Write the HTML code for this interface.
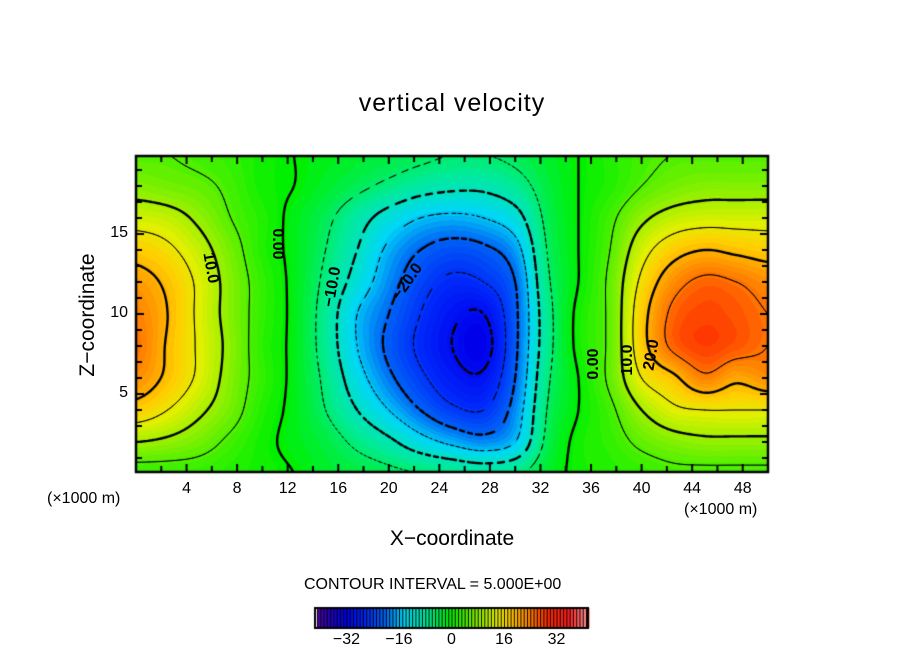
<!DOCTYPE html>
<html><head><meta charset="utf-8">
<style>
body{margin:0;background:#fff;width:904px;height:654px;overflow:hidden;position:relative;font-family:"Liberation Sans",sans-serif;color:#000}
.t{position:absolute;white-space:nowrap}
</style></head>
<body>
<div class="t" style="left:0;width:904px;text-align:center;top:89px;font-size:25px;letter-spacing:1px">vertical velocity</div>
<canvas id="cv" width="904" height="654" style="position:absolute;left:0;top:0"></canvas>
<div class="t" style="left:-12px;top:303px;font-size:21px;transform:rotate(-90deg);transform-origin:center;width:200px;text-align:center">Z−coordinate</div>
<div class="t" style="left:352px;top:527px;font-size:21px;width:200px;text-align:center">X−coordinate</div>
<div class="t" style="left:47px;top:490px;font-size:16px">(×1000 m)</div>
<div class="t" style="left:684px;top:501px;font-size:16px">(×1000 m)</div>
<div class="t" style="left:304px;top:576px;font-size:16px">CONTOUR INTERVAL = 5.000E+00</div>
<div id="labels"></div>
<script>
const xs=[0,2.5,5,7.5,10,12.5,15,17.5,20,22.5,25,27.5,30,32.5,35,37.5,40,42.5,45,47.5,50];
const zs=[20,18,16,14,12,10,8,6,4,2,0];
const field=[
[5,5,4,3,1,0,-1,-2,-3,-4,-5,-5,-4,-2,0,2,4,5,5,5,5],
[8,7,6,4,1,0,-2,-4,-6,-8,-9,-9,-7,-3,0,2,5,7,8,8,8],
[13,12,9,5,2,-1,-4,-8,-12,-15,-16,-15,-12,-4,0,4,9,12,13,13,13],
[18,16,12,7,2,-1,-5,-10,-16,-20,-22,-21,-17,-5,0,5,13,18,20,19,18],
[22,19,14,8,3,-1,-6,-12,-18,-23,-26,-25,-20,-6,0,6,16,23,26,25,23],
[24,20,14,8,3,-1,-7,-15,-20,-25,-29,-30,-21,-7,1,6,18,26,28,27,25],
[25,19.5,14.3,8.5,2.6,-1,-7,-15,-21,-26,-30,-32,-21,-7,1,6,18,26,28.5,27,25],
[23,19,14,8,3,-1,-6,-13,-19,-24,-28,-29,-20,-6,0,6,15,19,24,21,23],
[18,15,11,7,2,-1,-5,-10,-15,-20,-24,-25,-18,-5,0,4,10,14,15,15,15],
[10,9,7,4,1,-1,-3,-6,-9,-13,-16,-18,-15,-4,1,3,6,8,9,9,9],
[3,3,3,2,1,0,-2,-3,-4,-5,-6,-7,-6,-2,1,2,3,4,4,4,4]];
const xTicks=[4,8,12,16,20,24,28,32,36,40,44,48];
const yTicks=[5,10,15];
const cbTicks=[-32,-16,0,16,32];
const levels=[-30,-25,-20,-15,-10,-5,0,5,10,15,20,25,30];

const PL=136,PR=768,PT=156,PB=472;
const X=v=>PL+v*(PR-PL)/50;
const Z=v=>474-v*16;
const stops=[[-42,[100,0,150]],[-37,[40,0,190]],[-32,[0,0,235]],[-26,[0,40,250]],[-20,[0,100,245]],[-14,[0,215,245]],[-7,[0,235,150]],[0,[0,240,0]],[8,[130,240,0]],[14,[225,240,0]],[18,[255,205,0]],[24,[255,130,0]],[30,[255,40,0]],[36,[255,30,30]],[42,[255,150,150]]];
function col(v){v=Math.round(v);if(v<=stops[0][0])return stops[0][1];
for(let i=1;i<stops.length;i++){if(v<=stops[i][0]){const a=stops[i-1],b=stops[i],t=(v-a[0])/(b[0]-a[0]);return a[1].map((c,k)=>Math.round(c+(b[1][k]-c)*t));}}return stops[stops.length-1][1];}
function cr(p0,p1,p2,p3,t){return 0.5*(2*p1+(-p0+p2)*t+(2*p0-5*p1+4*p2-p3)*t*t+(-p0+3*p1-3*p2+p3)*t*t*t);}
function g(r,c){r=Math.max(0,Math.min(zs.length-1,r));c=Math.max(0,Math.min(xs.length-1,c));return field[r][c];}
function val(x,z){const fc=x/(xs[1]-xs[0]);const fr=(zs[0]-z)/(zs[0]-zs[1]);
const c=Math.floor(fc),r=Math.floor(fr),tc=fc-c,tr=fr-r;const rows=[];
for(let k=-1;k<=2;k++)rows.push(cr(g(r+k,c-1),g(r+k,c),g(r+k,c+1),g(r+k,c+2),tc));
return cr(rows[0],rows[1],rows[2],rows[3],tr);}
const cv=document.getElementById('cv'),ctx=cv.getContext('2d');
const W=PR-PL,H=PB-PT;const img=ctx.createImageData(W,H);
for(let j=0;j<H;j++){const z=(474-(PT+j+0.5))/16;for(let i=0;i<W;i++){const x=(i+0.5)*50/W;const v=val(x,z);const cc=col(v);const o=(j*W+i)*4;img.data[o]=cc[0];img.data[o+1]=cc[1];img.data[o+2]=cc[2];img.data[o+3]=255;}}
ctx.putImageData(img,PL,PT);
const S=2,nx=Math.floor(W/S)+1,ny=Math.floor(H/S)+1;const G=[];
for(let j=0;j<ny;j++){G.push([]);for(let i=0;i<nx;i++){G[j].push(val(i*S*50/W,(474-(PT+j*S))/16));}}
ctx.save();ctx.beginPath();ctx.rect(PL,PT,W,H);ctx.clip();
levels.forEach(L=>{ctx.beginPath();ctx.lineWidth=(L%10===0)?2.4:1;ctx.strokeStyle='#000';ctx.lineCap='round';
const per=L%10===0?10:7;
for(let j=0;j<ny-1;j++)for(let i=0;i<nx-1;i++){const a=G[j][i],b=G[j][i+1],c=G[j+1][i+1],d=G[j+1][i];const pts=[];
const e=(v1,v2,x1,y1,x2,y2)=>{if((v1<L)!==(v2<L)){const t=(L-v1)/(v2-v1);pts.push([x1+(x2-x1)*t,y1+(y2-y1)*t]);}};
const x0=PL+i*S,y0=PT+j*S;e(a,b,x0,y0,x0+S,y0);e(b,c,x0+S,y0,x0+S,y0+S);e(d,c,x0,y0+S,x0+S,y0+S);e(a,d,x0,y0,x0,y0+S);
for(let k=0;k+1<pts.length;k+=2){
if(L<0){const mx=(pts[k][0]+pts[k+1][0])/2,my=(pts[k][1]+pts[k+1][1])/2;const ph=((Math.abs(mx)+Math.abs(my))/per)%1;if(ph>0.6)continue;}
ctx.moveTo(pts[k][0],pts[k][1]);ctx.lineTo(pts[k+1][0],pts[k+1][1]);}}
ctx.stroke();});
ctx.restore();ctx.lineCap='butt';
ctx.lineWidth=2.5;ctx.strokeStyle='#000';ctx.strokeRect(PL,PT,W,H);ctx.lineWidth=2;ctx.beginPath();
for(let v=2;v<50;v+=2){const len=(v%4===0)?8:6;ctx.moveTo(X(v),PB);ctx.lineTo(X(v),PB-len);ctx.moveTo(X(v),PT);ctx.lineTo(X(v),PT+len);}
for(let v=1;v<20;v++){const y=Z(v);if(y<=PT||y>=PB)continue;const len=(v%5===0)?8:6;ctx.moveTo(PL,y);ctx.lineTo(PL+len,y);ctx.moveTo(PR,y);ctx.lineTo(PR-len,y);}
ctx.stroke();
const lab=document.getElementById('labels');
xTicks.forEach(v=>{const d=document.createElement('div');d.className='t';


d.style.cssText=`left:${X(v)-20}px;width:40px;text-align:center;top:480px;font-size:16px`;d.textContent=v;lab.appendChild(d);});
yTicks.forEach(v=>{const d=document.createElement('div');d.className='t';


d.style.cssText=`left:88px;width:40px;text-align:right;top:${Z(v)-10}px;font-size:16px`;d.textContent=v;lab.appendChild(d);});
const CL=315,CR=588,CT=608,CB=628,cmin=-41.6,cmax=41.6;const CX=v=>CL+(v-cmin)*(CR-CL)/(cmax-cmin);
for(let v=-41;v<=41;v++){const c=col(v+0.5);ctx.fillStyle=`rgb(${c})`;ctx.fillRect(CX(v),CT,CX(v+1)-CX(v)+0.5,CB-CT);ctx.fillStyle='#000';ctx.fillRect(CX(v),CT,1,CB-CT);}
ctx.lineWidth=2;ctx.strokeRect(CL,CT,CR-CL,CB-CT);
cbTicks.forEach(v=>{const d=document.createElement('div');d.className='t';


d.style.cssText=`left:${CX(v)-25}px;width:50px;text-align:center;top:631px;font-size:16px`;d.textContent=(v<0?'−'+(-v):v);lab.appendChild(d);});
[[210,268,'10.0',80],[277,244,'0.00',90],[333,287,'−10.0',-80],[408,282,'−20.0',-55],[594,364,'0.00',-90],[628,360,'10.0',-90],[652,355,'20.0',-80]].forEach(a=>{const d=document.createElement('div');d.className='t';


d.style.cssText=`left:${a[0]-24}px;width:48px;text-align:center;top:${a[1]-9}px;font-size:16px;font-weight:bold;transform:rotate(${a[3]}deg)`;d.textContent=a[2];lab.appendChild(d);});
</script>
</body></html>
